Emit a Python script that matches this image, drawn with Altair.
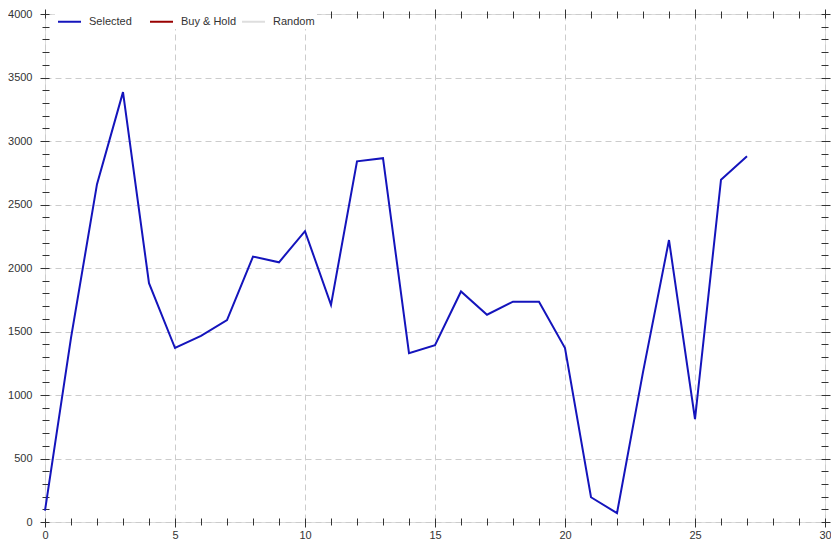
import altair as alt
import pandas as pd

x_vals = list(range(28))
selected = [90, 1450, 2660, 3385, 1880, 1370, 1465, 1590, 2090, 2045,
            2290, 1710, 2840, 2865, 1330, 1393, 1815, 1632, 1735, 1735,
            1370, 195, 70, 1180, 2220, 810, 2695, 2880]
series = ["Selected", "Buy & Hold", "Random"]
colors = ["#1414bc", "#990000", "#dedede"]
x_ticks = list(range(0, 31))
y_ticks = list(range(0, 4001, 100))

df = pd.DataFrame({"x": x_vals, "value": selected, "series": ["Selected"] * len(x_vals)})

FONT = "Liberation Sans"
W, H = 780, 508

grid_x = {"condition": {"test": "datum.value % 5 === 0", "value": 1}, "value": 0}
grid_y = {"condition": {"test": "datum.value % 500 === 0", "value": 1}, "value": 0}
tick_x = {"condition": {"test": "datum.value % 5 === 0", "value": 9}, "value": 7}
tick_y = {"condition": {"test": "datum.value % 500 === 0", "value": 9}, "value": 7}

common_axis = dict(domain=False, tickColor="#333", tickWidth=1, offset=-4,
                   labelFont=FONT, labelFontSize=11, labelColor="#333",
                   labelOverlap=False, labelFlush=False, format="d")

x_bottom = alt.Axis(orient="bottom", values=x_ticks, title=None,
                    labelExpr="datum.value % 5 === 0 ? datum.label : ''",
                    tickSize=tick_x, gridOpacity=grid_x, gridColor="#cccccc",
                    gridDash=[6, 4], labelPadding=2, **common_axis)
y_left = alt.Axis(orient="left", values=y_ticks, title=None,
                  labelExpr="datum.value % 500 === 0 ? datum.label : ''",
                  tickSize=tick_y, gridOpacity=grid_y, gridColor="#cccccc",
                  gridDash=[6, 4], labelPadding=8, **common_axis)
x_top = alt.Axis(orient="top", values=x_ticks, title=None, labels=False,
                 tickSize=tick_x, grid=False, domain=False, tickColor="#333", offset=-4)
y_right = alt.Axis(orient="right", values=y_ticks, title=None, labels=False,
                   tickSize=tick_y, grid=False, domain=False, tickColor="#333", offset=-4)

xs = alt.Scale(domain=[0, 30], nice=False, zero=False)
ys = alt.Scale(domain=[0, 4000], nice=False)

line = alt.Chart(df).mark_line(strokeWidth=2).encode(
    x=alt.X("x:Q", scale=xs, axis=x_bottom),
    y=alt.Y("value:Q", scale=ys, axis=y_left),
    color=alt.Color("series:N",
                    scale=alt.Scale(domain=series, range=colors),
                    legend=alt.Legend(title=None, orient="none", legendX=10, legendY=-7,
                                      direction="horizontal", columns=3, gridAlign="all",
                                      columnPadding=1, labelOffset=7, padding=2,
                                      fillColor="white",
                                      symbolType="stroke", symbolStrokeWidth=2,
                                      symbolSize=529, labelFont=FONT, labelFontSize=11,
                                      labelColor="#333")),
)

frame = alt.Chart(df).mark_point(opacity=0).encode(
    x=alt.X("x:Q", scale=xs, axis=x_top),
    y=alt.Y("value:Q", scale=ys, axis=y_right),
)

chart = alt.layer(line, frame).resolve_scale(x="independent", y="independent").properties(
    width=W, height=H,
    autosize=alt.AutoSizeParams(type="none"),
    padding={"left": 37, "top": 6, "right": 6, "bottom": 22},
).configure_view(stroke="#333", strokeWidth=1).configure(background="white")

chart.save("out.html", embed_options={"renderer": "svg", "actions": False})
